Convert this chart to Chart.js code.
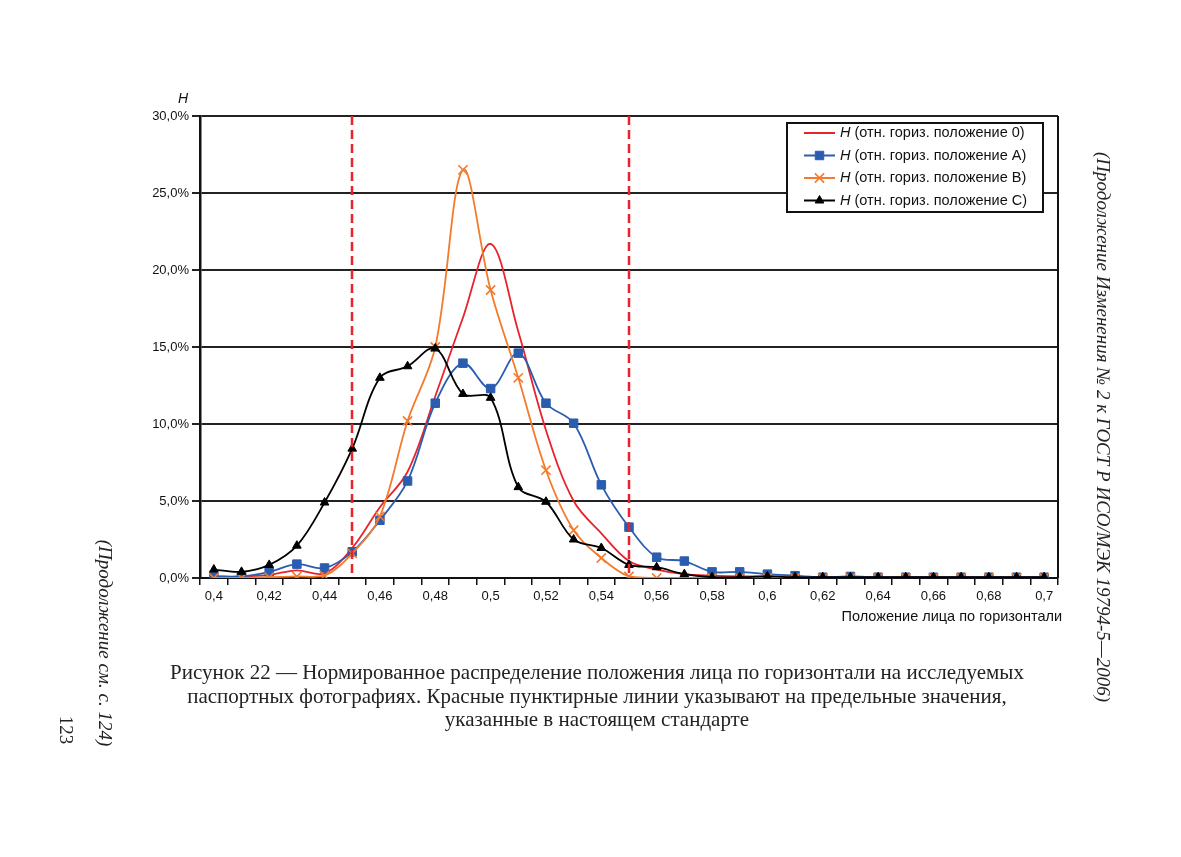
<!DOCTYPE html>
<html>
<head>
<meta charset="utf-8">
<script src="https://cdn.jsdelivr.net/npm/chart.js@4"></script>
<style>
  body { margin: 0; background: #fff; width: 1181px; height: 857px; position: relative; overflow: hidden; }
  #graph { position: absolute; left: 0; top: 0; }
  .caption { position: absolute; left: 0; width: 1194px; text-align: center; font-family: "Liberation Serif", serif; font-size: 21px; color: #222; line-height: 23.5px; top: 661px; }
  .side { position: absolute; font-family: "Liberation Serif", serif; color: #222; white-space: nowrap; transform: translate(-50%, -50%) rotate(90deg); }
</style>
</head>
<body>
<canvas id="graph" width="1181" height="857"></canvas>
<div class="caption">Рисунок 22 — Нормированное распределение положения лица по горизонтали на исследуемых<br>паспортных фотографиях. Красные пунктирные линии указывают на предельные значения,<br>указанные в настоящем стандарте</div>
<div class="side" style="left:1103px; top:427px; font-size:19px; font-style:italic;">(Продолжение Изменения № 2 к ГОСТ Р ИСО/МЭК 19794-5—2006)</div>
<div class="side" style="left:105px; top:643px; font-size:19px; font-style:italic;">(Продолжение см. с. 124)</div>
<div class="side" style="left:66px; top:730px; font-size:19px;">123</div>
<script>
// ---------------------------------------------------------------------------- D O N N E E S
const categories = ['0,4','0,41','0,42','0,43','0,44','0,45','0,46','0,47','0,48','0,49','0,5',
                    '0,51','0,52','0,53','0,54','0,55','0,56','0,57','0,58','0,59','0,6',
                    '0,61','0,62','0,63','0,64','0,65','0,66','0,67','0,68','0,69','0,7'];

const seriesLabels = ['Н (отн. гориз. положение 0)', 'Н (отн. гориз. положение A)',
                      'Н (отн. гориз. положение B)', 'Н (отн. гориз. положение C)'];

// valeurs en %
const pos0 = [0.1, 0.1, 0.2, 0.5, 0.3, 1.95, 4.6, 6.9, 11.8, 16.9, 21.7,
              16.0, 9.6, 5.0, 2.9, 1.1, 0.55, 0.25, 0.15, 0.1, 0.1,
              0.05, 0.05, 0.05, 0.05, 0.05, 0.05, 0.05, 0.05, 0.05, 0.05];
const posA = [0.1, 0.1, 0.4, 0.9, 0.65, 1.7, 3.75, 6.3, 11.35, 13.95, 12.3,
              14.6, 11.35, 10.05, 6.05, 3.3, 1.35, 1.1, 0.4, 0.4, 0.25,
              0.15, 0.05, 0.1, 0.05, 0.05, 0.05, 0.05, 0.05, 0.05, 0.05];
const posB = [0, 0, 0.05, 0.1, 0.15, 1.6, 4.0, 10.2, 15.0, 26.5, 18.7,
              13.0, 7.0, 3.1, 1.3, 0.1, 0, 0, 0, 0, 0,
              0, 0, 0, 0, 0, 0, 0, 0, 0, 0];
const posC = [0.55, 0.4, 0.85, 2.1, 4.9, 8.4, 13.0, 13.75, 14.9, 11.95, 11.7,
              5.9, 4.95, 2.5, 1.95, 0.85, 0.7, 0.25, 0.05, 0.05, 0.1,
              0.05, 0.05, 0.05, 0.05, 0.05, 0.05, 0.05, 0.05, 0.05, 0.05];

const yTicks = [0, 5, 10, 15, 20, 25, 30];
const limits = ['0,45', '0,55'];   // lignes pointillées rouges

const RED = '#e8232b', BLUE = '#2a5db0', ORANGE = '#f47a2c', BLACK = '#000';
const FONT = '"Liberation Sans", Arial, sans-serif';

// ---------------------------------------------------------------------------- P L U G I N
const decor = {
    id: 'decor',
    afterDatasetsDraw(chart) {
        const ctx = chart.ctx;
        const a = chart.chartArea;
        const x = chart.scales.x;
        ctx.save();
        // bord droit
        ctx.strokeStyle = '#111';
        ctx.lineWidth = 2;
        ctx.beginPath();
        ctx.moveTo(a.right, a.top);
        ctx.lineTo(a.right, a.bottom);
        ctx.stroke();
        // limites
        ctx.strokeStyle = RED;
        ctx.lineWidth = 2.5;
        ctx.setLineDash([9, 5]);
        limits.forEach(l => {
            const px = Math.round(x.getPixelForValue(categories.indexOf(l)));
            ctx.beginPath();
            ctx.moveTo(px, a.top);
            ctx.lineTo(px, a.bottom);
            ctx.stroke();
        });
        ctx.setLineDash([]);
        // titre axe Y
        ctx.fillStyle = '#111';
        ctx.font = 'italic 14px ' + FONT;
        ctx.textAlign = 'center';
        ctx.textBaseline = 'middle';
        ctx.fillText('Н', a.left - 17, a.top - 17);
        // titre axe X
        ctx.font = '14.5px ' + FONT;
        ctx.textAlign = 'right';
        ctx.fillText('Положение лица по горизонтали', a.right + 4, a.bottom + 39);

        // légende
        const bx = a.right - 271, by = a.top + 7, bw = 256, bh = 89;
        ctx.fillStyle = '#fff';
        ctx.fillRect(bx, by, bw, bh);
        ctx.strokeStyle = '#111';
        ctx.lineWidth = 2;
        ctx.strokeRect(bx, by, bw, bh);
        chart.data.datasets.forEach((ds, i) => {
            const ly = by + 10 + i * 22.5;
            ctx.strokeStyle = ds.borderColor;
            ctx.fillStyle = ds.borderColor;
            ctx.lineWidth = 2;
            ctx.beginPath();
            ctx.moveTo(bx + 17, ly);
            ctx.lineTo(bx + 48, ly);
            ctx.stroke();
            if (ds.pointRadius > 0) {
                ctx.lineWidth = ds.pointBorderWidth || 1;
                Chart.helpers.drawPoint(ctx, {
                    pointStyle: ds.pointStyle, radius: ds.pointRadius,
                    borderWidth: ds.pointBorderWidth || 1, rotation: 0
                }, bx + 32.5, ly);
            }
            ctx.fillStyle = '#111';
            ctx.textAlign = 'left';
            ctx.font = 'italic 14.5px ' + FONT;
            ctx.fillText(ds.label[0], bx + 53, ly);
            const w = ctx.measureText(ds.label[0]).width;
            ctx.font = '14.5px ' + FONT;
            ctx.fillText(ds.label.slice(1), bx + 53 + w, ly);
        });
        ctx.restore();
    }
};

// ---------------------------------------------------------------------------- C H A R T
const serie = (label, data, color, style, radius, order) => ({
    label: label,
    data: data,
    borderColor: color,
    backgroundColor: color,
    pointBackgroundColor: color,
    pointBorderColor: color,
    pointStyle: style,
    pointRadius: radius,
    pointBorderWidth: style === 'crossRot' ? 1.6 : 1,
    borderWidth: 1.8,
    tension: 0.35,
    order: order
});

new Chart(document.getElementById('graph'), {
    type: 'line',
    data: {
        labels: categories,
        datasets: [
            serie(seriesLabels[0], pos0, RED, 'circle', 0, 4),
            serie(seriesLabels[1], posA, BLUE, 'rect', 6, 3),
            serie(seriesLabels[2], posB, ORANGE, 'crossRot', 6.5, 2),
            serie(seriesLabels[3], posC, BLACK, 'triangle', 5, 1)
        ]
    },
    options: {
        responsive: false,
        animation: false,
        layout: { padding: { left: 140, right: 123, top: 116, bottom: 219 } },
        plugins: { legend: { display: false }, tooltip: { enabled: false } },
        scales: {
            x: {
                offset: true,
                afterFit: s => { s.height = 60; },
                grid: { display: true, drawOnChartArea: false, drawTicks: true, tickLength: 7, color: '#111', lineWidth: 1.5, offset: true },
                border: { display: true, color: '#111', width: 2 },
                ticks: {
                    autoSkip: false, maxRotation: 0, padding: 4,
                    color: '#111', font: { family: FONT, size: 13 },
                    callback: (v, i) => i % 2 === 0 ? categories[i] : ''
                }
            },
            y: {
                min: 0, max: 30,
                afterFit: s => { s.width = 60; },
                afterBuildTicks: s => { s.ticks = yTicks.map(v => ({ value: v })); },
                grid: { color: '#222', lineWidth: 2, tickLength: 8 },
                border: { display: true, color: '#111', width: 2.5 },
                ticks: {
                    padding: 3, color: '#111', font: { family: FONT, size: 13 },
                    callback: v => v.toFixed(1).replace('.', ',') + '%'
                }
            }
        }
    },
    plugins: [decor]
});
</script>
</body>
</html>
